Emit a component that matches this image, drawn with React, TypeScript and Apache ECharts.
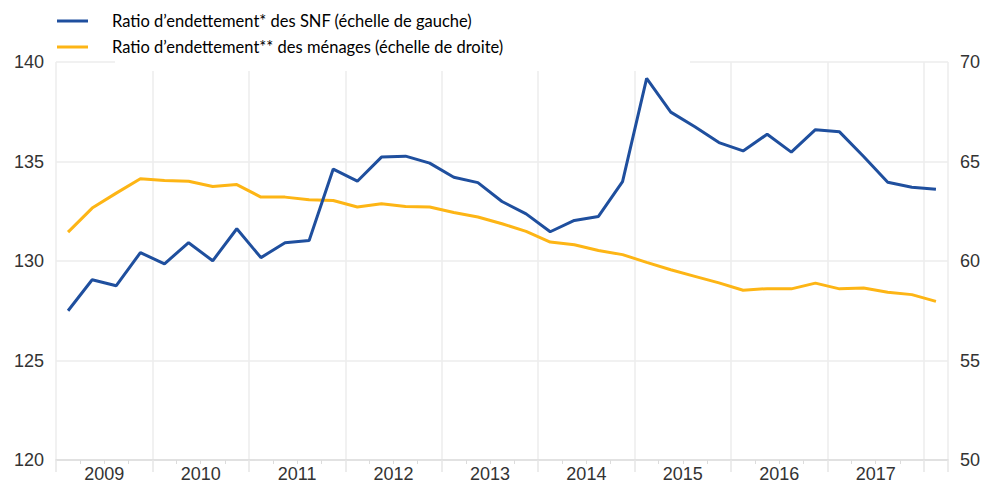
import React, { useEffect, useRef } from "react";
import * as echarts from "echarts";

const quarters = [
  "2009T1", "2009T2", "2009T3", "2009T4",
  "2010T1", "2010T2", "2010T3", "2010T4",
  "2011T1", "2011T2", "2011T3", "2011T4",
  "2012T1", "2012T2", "2012T3", "2012T4",
  "2013T1", "2013T2", "2013T3", "2013T4",
  "2014T1", "2014T2", "2014T3", "2014T4",
  "2015T1", "2015T2", "2015T3", "2015T4",
  "2016T1", "2016T2", "2016T3", "2016T4",
  "2017T1", "2017T2", "2017T3", "2017T4",
  "2018T1",
];

const years = ["2009", "2010", "2011", "2012", "2013", "2014", "2015", "2016", "2017"];

const snf = [
  127.5, 129.06, 128.76, 130.42, 129.86, 130.92, 130.01, 131.62, 130.17, 130.92,
  131.03, 134.62, 134.01, 135.22, 135.27, 134.92, 134.21, 133.94, 132.99, 132.37,
  131.47, 132.04, 132.24, 133.99, 139.18, 137.48, 136.75, 135.95, 135.53, 136.37,
  135.47, 136.6, 136.49, 135.25, 133.96, 133.71, 133.61,
];

const menages = [
  61.45, 62.66, 63.41, 64.13, 64.04, 64.01, 63.74, 63.84, 63.21, 63.21,
  63.08, 63.04, 62.71, 62.88, 62.74, 62.71, 62.44, 62.21, 61.87, 61.49,
  60.95, 60.82, 60.53, 60.32, 59.93, 59.56, 59.23, 58.9, 58.53, 58.61,
  58.6, 58.89, 58.6, 58.64, 58.43, 58.31, 57.97,
];

const leftTicks = { min: 120, max: 140, interval: 5 };
const rightTicks = { min: 50, max: 70, interval: 5 };

const NAME_SNF = "Ratio d’endettement* des SNF (échelle de gauche)";
const NAME_MEN = "Ratio d’endettement** des ménages (échelle de droite)";

const BLUE = "#1f4f9e";
const ORANGE = "#fdb515";
const GRID = "#ececec";

export default function App() {
  const ref = useRef<HTMLDivElement>(null);

  useEffect(() => {
    if (!ref.current) return;
    const chart = echarts.init(ref.current, null, { renderer: "svg" });
    const axisFont = { fontFamily: "Liberation Sans", fontSize: 18, color: "#333" };
    chart.setOption({
      animation: false,
      backgroundColor: "#ffffff",
      grid: { left: 56, right: 36, top: 62, bottom: 24, containLabel: false },
      legend: {
        orient: "vertical",
        left: 57,
        top: 10,
        padding: 0,
        itemWidth: 31,
        itemHeight: 3,
        itemGap: 4,
        icon: "rect",
        z: 5,
        textStyle: {
          fontFamily: "Lato",
          fontSize: 16.5,
          color: "#000",
          lineHeight: 22,
          padding: [0, 0, 0, 19],
        },
        data: [NAME_SNF, NAME_MEN],
      },
      graphic: [
        {
          type: "rect",
          shape: { x: 115, y: 0, width: 575, height: 71 },
          style: { fill: "#ffffff" },
          z: 3,
          silent: true,
        },
      ],
      xAxis: [
        {
          type: "value",
          min: 0,
          max: quarters.length,
          interval: 4,
          position: "bottom",
          axisLine: { show: true, lineStyle: { color: "#dcdcdc", width: 1.5 } },
          axisTick: { show: true, length: 12, lineStyle: { color: "#e6e6e6", width: 1.5 } },
          minorTick: { show: true, splitNumber: 4, length: 4, lineStyle: { color: "#dcdcdc" } },
          splitLine: { show: true, lineStyle: { color: GRID, width: 1.5 } },
          axisLabel: { show: false },
        },
        {
          type: "value",
          min: 0,
          max: quarters.length,
          interval: 2,
          position: "bottom",
          axisLine: { show: false },
          axisTick: { show: false },
          splitLine: { show: false },
          axisLabel: {
            show: true,
            margin: 5,
            ...axisFont,
            formatter: (v: number) => {
              const idx = Math.round(v);
              if (idx % 4 === 2) return years[(idx - 2) / 4] ?? "";
              return "";
            },
          },
        },
      ],
      yAxis: [
        {
          type: "value",
          position: "left",
          ...leftTicks,
          axisLine: { show: false },
          axisTick: { show: false },
          splitLine: { show: true, lineStyle: { color: GRID, width: 1.5 } },
          axisLabel: { margin: 12, ...axisFont },
        },
        {
          type: "value",
          position: "right",
          ...rightTicks,
          axisLine: { show: false },
          axisTick: { show: false },
          splitLine: { show: false },
          axisLabel: { margin: 12, ...axisFont },
        },
      ],
      series: [
        {
          name: NAME_SNF,
          type: "line",
          xAxisIndex: 0,
          yAxisIndex: 0,
          symbol: "none",
          data: snf.map((v, i) => [i + 0.5, v]),
          lineStyle: { color: BLUE, width: 3 },
          itemStyle: { color: BLUE },
          z: 2,
        },
        {
          name: NAME_MEN,
          type: "line",
          xAxisIndex: 0,
          yAxisIndex: 1,
          symbol: "none",
          data: menages.map((v, i) => [i + 0.5, v]),
          lineStyle: { color: ORANGE, width: 3 },
          itemStyle: { color: ORANGE },
          z: 1,
        },
      ],
    });
    return () => chart.dispose();
  }, []);

  return (
    <div
      ref={ref}
      style={{ position: "fixed", left: 0, top: 0, width: 984, height: 484, background: "#fff" }}
    />
  );
}
